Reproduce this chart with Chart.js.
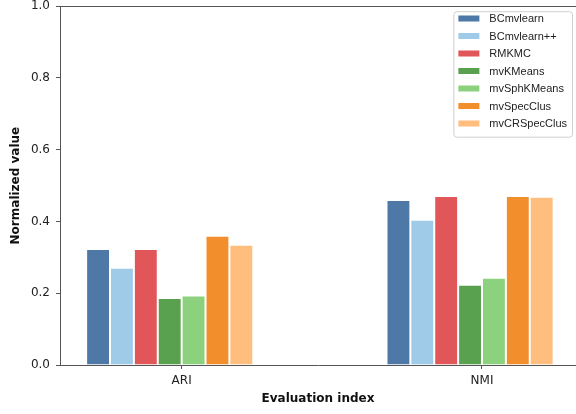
<!DOCTYPE html>
<html>
<head>
<meta charset="utf-8">
<script src="https://cdn.jsdelivr.net/npm/chart.js@4.4.0/dist/chart.umd.min.js"></script>
<style>
  html, body { margin: 0; padding: 0; background: #fff; overflow: hidden; width: 576px; height: 414px; }
  #chartID { display: block; margin-top: -7px; }
</style>
</head>
<body>
<canvas id="chartID" width="576" height="421"></canvas>
<script>
// Categories (x axis) and the methods compared
const categories = ['ARI', 'NMI']
const methods = ['BCmvlearn', 'BCmvlearn++', 'RMKMC', 'mvKMeans', 'mvSphKMeans', 'mvSpecClus', 'mvCRSpecClus']

// Values, [ARI, NMI]
const BCmvlearn = [0.323, 0.460]
const BCmvlearnPP = [0.271, 0.405]
const RMKMC = [0.323, 0.471]
const mvKMeans = [0.187, 0.224]
const mvSphKMeans = [0.194, 0.243]
const mvSpecClus = [0.360, 0.471]
const mvCRSpecClus = [0.335, 0.469]

const yTicks = [0.0, 0.2, 0.4, 0.6, 0.8, 1.0]

const colors = ['#4e79a7', '#a0cbe8', '#e15759', '#59a14f', '#8cd17d', '#f28e2b', '#ffbe7d']
const axisColor = '#555'
const textColor = '#222'

const series = [BCmvlearn, BCmvlearnPP, RMKMC, mvKMeans, mvSphKMeans, mvSpecClus, mvCRSpecClus]

const datasets = series.map(function(values, i) {
	return {
		label: methods[i],
		data: values.map(function(v, j) { return { x: j, y: v } }),
		backgroundColor: colors[i],
		borderColor: '#fff',
		borderWidth: 1,
	}
})
// empty slot so the group sits like matplotlib's (tick between 4th and 5th bar)
datasets.push({
	label: '',
	data: categories.map(function(c, j) { return { x: j, y: null } }),
	backgroundColor: 'rgba(0,0,0,0)',
})

// top spine + legend drawn inside the plot area
const extras = {
	id: 'extras',
	afterDraw(chart) {
		const ctx = chart.ctx
		const area = chart.chartArea
		ctx.save()
		ctx.strokeStyle = axisColor
		ctx.lineWidth = 1
		ctx.beginPath()
		ctx.moveTo(area.left, Math.round(area.top) + 0.5)
		ctx.lineTo(area.right, Math.round(area.top) + 0.5)
		ctx.stroke()

		ctx.font = '11px "Liberation Sans", Arial, sans-serif'
		let maxW = 0
		methods.forEach(function(m) { maxW = Math.max(maxW, ctx.measureText(m).width) })
		const rowH = 17.5
		const patchW = 21
		const boxW = 5 + patchW + 10 + maxW + 5
		const boxH = rowH * methods.length + 3
		const x0 = area.right - 4 - boxW
		const y0 = area.top + 5
		ctx.fillStyle = 'rgba(255,255,255,0.85)'
		ctx.strokeStyle = '#d0d0d0'
		ctx.beginPath()
		ctx.roundRect(x0 + 0.5, y0 + 0.5, boxW, boxH, 3)
		ctx.fill()
		ctx.stroke()
		ctx.textBaseline = 'middle'
		methods.forEach(function(m, i) {
			const cy = y0 + 7.3 + i * rowH
			ctx.fillStyle = colors[i]
			ctx.fillRect(x0 + 5, cy - 3, patchW, 6)
			ctx.fillStyle = textColor
			ctx.fillText(m, x0 + 5 + patchW + 10, cy + 0.5)
		})
		ctx.restore()
	}
}

window.onload = function() {
	let chartCtx = document.getElementById('chartID').getContext('2d')
	window.barChart = new Chart(chartCtx, {
		type: 'bar',
		data: { datasets: datasets },
		plugins: [extras],
		options: {
			responsive: false,
			animation: false,
			devicePixelRatio: 1,
			layout: { padding: { top: 0, right: 0, left: 0, bottom: 0 } },
			plugins: {
				legend: { display: false },
				tooltip: { enabled: false },
			},
			datasets: {
				bar: { categoryPercentage: 0.636, barPercentage: 1.0 },
			},
			scales: {
				x: {
					type: 'linear',
					offset: false,
					min: -0.405,
					max: 1.313,
					afterBuildTicks: function(scale) {
						scale.ticks = categories.map(function(c, j) { return { value: j } })
					},
					afterFit: function(scale) { scale.height = 49 },
					ticks: {
						callback: function(v) { return categories[v] },
						font: { family: 'DejaVu Sans', size: 12 },
						color: textColor,
						padding: 5,
						maxRotation: 0,
					},
					grid: { drawOnChartArea: false, offset: false, tickLength: 4, color: axisColor },
					border: { color: axisColor, width: 1 },
					title: {
						display: true,
						text: 'Evaluation index',
						font: { family: 'DejaVu Sans', size: 12, weight: 'bold' },
						color: '#111',
						padding: { top: 0, bottom: 8 },
					},
				},
				y: {
					min: 0,
					max: 1,
					afterBuildTicks: function(scale) {
						scale.ticks = yTicks.map(function(v) { return { value: v } })
					},
					afterFit: function(scale) { scale.width = 60 },
					ticks: {
						callback: function(v) { return v.toFixed(1) },
						font: { family: 'DejaVu Sans', size: 12 },
						color: textColor,
						padding: 6,
					},
					grid: { drawOnChartArea: false, tickLength: 4, color: axisColor },
					border: { color: axisColor, width: 1 },
					title: {
						display: true,
						text: 'Normalized value',
						font: { family: 'DejaVu Sans', size: 12, weight: 'bold' },
						color: '#111',
						padding: { top: 9, bottom: 0 },
					},
				},
			},
		},
	})
}
</script>
</body>
</html>
